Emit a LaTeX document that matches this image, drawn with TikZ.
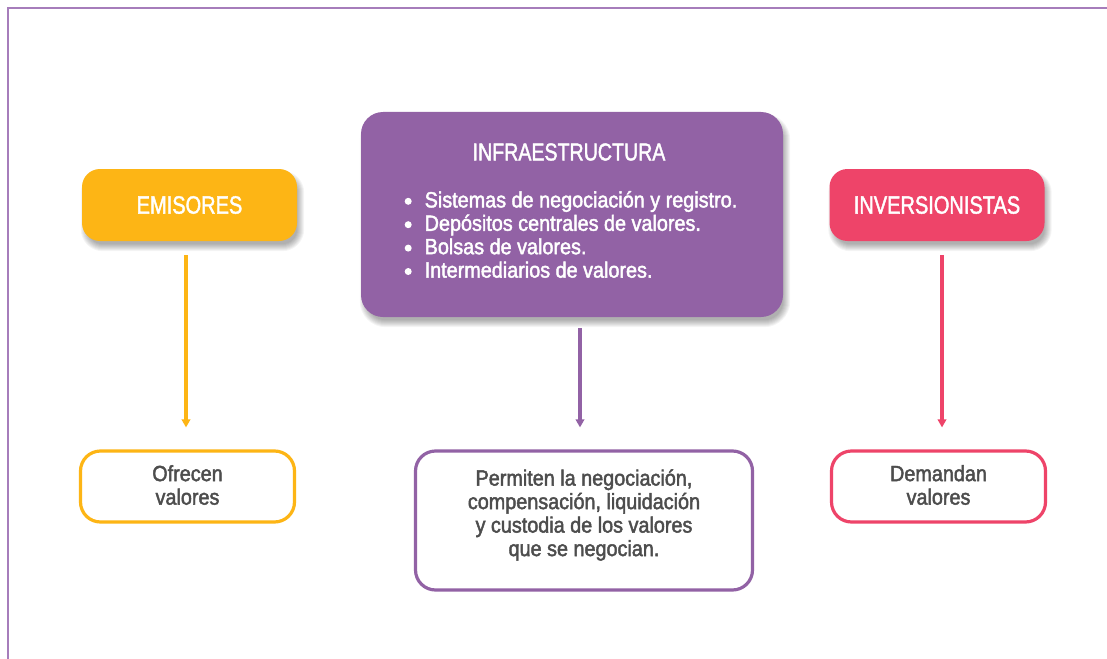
\documentclass[tikz,border=0pt]{standalone}
\usepackage{fontspec}
\setmainfont{Liberation Sans}[FakeStretch=0.9,FakeBold=2.0]
\newfontfamily\titlefont{Liberation Sans}[FakeStretch=0.8,FakeBold=1.6]
\usetikzlibrary{arrows.meta,calc}
\definecolor{cyel}{HTML}{FDB515}
\definecolor{cpink}{HTML}{EE4469}
\definecolor{cpur}{HTML}{9262A5}
\definecolor{cframe}{HTML}{A67DBB}
\definecolor{ctext}{HTML}{4D4D4D}
\pgfdeclarelayer{bglayer}
\pgfdeclarelayer{shadowlayer}
\pgfsetlayers{bglayer,shadowlayer,main}
\newcommand\mybul{\raisebox{2.6pt}{\tikz\fill[white] (0,0) circle (3.5pt);}}
\tikzset{
  topbox/.style={rounded corners=18pt, minimum width=215pt, minimum height=72pt,
    text=white, font=\titlefont\fontsize{25}{28}\selectfont, inner sep=0pt},
  botbox/.style={rounded corners=20pt, line width=3.2pt, fill=white, inner sep=0pt},
  bottext/.style={text=ctext, align=center, font=\fontsize{22}{23.5}\selectfont, inner sep=0pt},
  conn/.style={line width=3.2pt, -{Triangle[length=8pt,width=8.5pt]}},
  shadowpiece/.style={fill=black, fill opacity=0.045}
}
\begin{document}
\begin{tikzpicture}[x=1pt,y=-1pt]
\useasboundingbox (0,0) rectangle (1107,658);
\begin{pgfonlayer}{bglayer}
\fill[white] (0,0) rectangle (1107,658);
\end{pgfonlayer}
\draw[cframe, line width=2.2pt] (8,670) -- (8,8) -- (1120,8);
% top boxes
\node[topbox, fill=cyel] (emi) at (189.5,205) {EMISORES};
\node[topbox, fill=cpink] (inv) at (937,205) {INVERSIONISTAS};
\node[topbox, fill=cpur, rounded corners=22pt, minimum width=422pt, minimum height=205pt] (inf) at (572,214.5) {};
\node[text=white, font=\titlefont\fontsize{24.5}{28}\selectfont] (inft) at (569,152) {INFRAESTRUCTURA};
\node[text=white, anchor=north west, align=left, inner sep=0pt, font=\fontsize{22}{23.4}\selectfont] (infl) at (404.5,191)
  {\mybul\hspace{13pt}Sistemas de negociación y registro.\\
   \mybul\hspace{13pt}Depósitos centrales de valores.\\
   \mybul\hspace{13pt}Bolsas de valores.\\
   \mybul\hspace{13pt}Intermediarios de valores.};
% shadows
\begin{pgfonlayer}{shadowlayer}
\foreach \n/\r in {emi/18,inv/18,inf/22}{
  \foreach \e in {-3,-2,...,4}{
    \fill[shadowpiece, rounded corners={(\r+\e)*1pt}]
      ($(\n.north west)+(3-\e,6-\e)$) rectangle ($(\n.south east)+(3+\e,6+\e)$);
  }
}
\end{pgfonlayer}
% bottom boxes
\node[botbox, draw=cyel, minimum width=214pt, minimum height=71pt] (ofr) at (187.5,486.5) {};
\node[bottext] (ofrt) at (187.5,485) {Ofrecen\\valores};
\node[botbox, draw=cpur, minimum width=337pt, minimum height=139pt] (per) at (584,520.5) {};
\node[bottext] (pert) at (584,515) {Permiten la negociación,\\compensación, liquidación\\y custodia de los valores\\que se negocian.};
\node[botbox, draw=cpink, minimum width=214pt, minimum height=71pt] (dem) at (938.5,486.5) {};
\node[bottext] (demt) at (938.5,485) {Demandan\\valores};
% connectors
\draw[conn, cyel] ([xshift=-3.5pt,yshift=-14pt]emi.south) -- ([xshift=-1.5pt,yshift=22pt]ofr.north);
\draw[conn, cpur] ([xshift=8pt,yshift=-11pt]inf.south) -- ([xshift=-4pt,yshift=22pt]per.north);
\draw[conn, cpink] ([xshift=5pt,yshift=-14pt]inv.south) -- ([xshift=3.5pt,yshift=22pt]dem.north);
\end{tikzpicture}
\end{document}
